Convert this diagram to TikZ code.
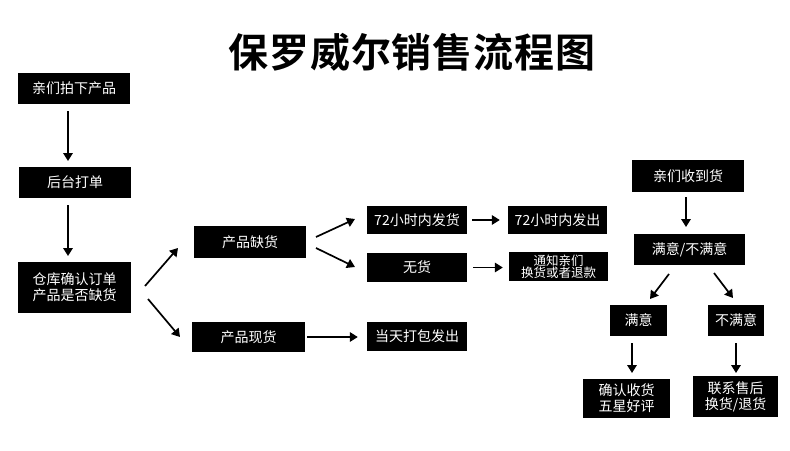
\documentclass[tikz,border=0pt]{standalone}
\usepackage{fontspec}
\newfontfamily\cjk{Noto Sans CJK SC}
\newfontfamily\cjktitle{Noto Sans CJK SC Bold}[LetterSpace=2]
\usetikzlibrary{arrows.meta}
\begin{document}
\begin{tikzpicture}[x=1pt,y=-1pt,
  bx/.style={fill=black,text=white,inner sep=0pt,font=\cjk\fontsize{14pt}{16pt}\selectfont,align=center},
  sbx/.style={bx,font=\cjk\fontsize{12.5pt}{12.5pt}\selectfont},
  arr/.style={line width=1.7pt,-{Triangle[length=8pt,width=9.5pt]}}]
\useasboundingbox[fill=white] (0,0) rectangle (790,450);
\node[font=\cjktitle\fontsize{40pt}{44pt}\selectfont] (title) at (412,52) {保罗威尔销售流程图};
% left column
\node[bx,minimum width=112pt,minimum height=31pt] (a) at (74,88.5) {亲们拍下产品};
\node[bx,minimum width=112pt,minimum height=31pt] (b) at (75,182.5) {后台打单};
\node[bx,minimum width=113pt,minimum height=51pt] (c) at (74.5,287.5) {仓库确认订单\\产品是否缺货};
\coordinate (a1) at (68,104); \coordinate (b1) at (68,167);
\coordinate (b2) at (68,198); \coordinate (c2) at (68,262);
\draw[arr,shorten <=7pt,shorten >=6pt] (a1) -- (b1);
\draw[arr,shorten <=7pt,shorten >=6pt] (b2) -- (c2);
% middle
\node[bx,minimum width=112pt,minimum height=32pt] (q) at (250,242) {产品缺货};
\node[bx,minimum width=113pt,minimum height=30pt] (x) at (248.5,337) {产品现货};
\coordinate (cq1) at (145,286); \coordinate (cq2) at (178,248);
\coordinate (cx1) at (148,299); \coordinate (cx2) at (180,337);
\draw[arr] (cq1) -- (cq2);
\draw[arr] (cx1) -- (cx2);
\node[bx,minimum width=100pt,minimum height=28pt] (h72) at (417,220) {72小时内发货};
\node[bx,minimum width=100pt,minimum height=29pt] (wh) at (417,267.5) {无货};
\node[bx,minimum width=100pt,minimum height=29pt] (dt) at (417,336.5) {当天打包发出};
\node[bx,minimum width=99pt,minimum height=28pt] (f72) at (557.5,220) {72小时内发出};
\node[sbx,minimum width=99pt,minimum height=29pt] (tz) at (558.5,266.5) {通知亲们\\换货或者退款};
\coordinate (qu1) at (316,237); \coordinate (qu2) at (355,219);
\coordinate (qd1) at (316,248); \coordinate (qd2) at (355,267);
\draw[arr] (qu1) -- (qu2);
\draw[arr] (qd1) -- (qd2);
\draw[arr,shorten <=5pt,shorten >=8pt] (h72.east) -- (f72.west);
\draw[arr,shorten <=6pt,shorten >=6pt] (wh.east) -- (tz.west |- wh.east);
\draw[arr,shorten <=2pt,shorten >=9pt] (x.east) -- (dt.west |- x.east);
% right
\node[bx,minimum width=112pt,minimum height=32pt] (r) at (688,176) {亲们收到货};
\node[bx,minimum width=111pt,minimum height=31pt] (s) at (689.5,249.5) {满意/不满意};
\node[bx,minimum width=57pt,minimum height=31pt] (m) at (638.5,320.5) {满意};
\node[bx,minimum width=56pt,minimum height=31pt] (n) at (736,320.5) {不满意};
\node[bx,minimum width=87pt,minimum height=39pt] (mm) at (626.5,398.5) {确认收货\\五星好评};
\node[bx,minimum width=85pt,minimum height=41pt] (nn) at (735.5,396.5) {联系售后\\换货/退货};
\coordinate (r1) at (686,192); \coordinate (s1) at (686,234);
\draw[arr,shorten <=5pt,shorten >=7pt] (r1) -- (s1);
\coordinate (sl1) at (669,274); \coordinate (sl2) at (650,299);
\coordinate (sr1) at (714,273); \coordinate (sr2) at (733,298);
\draw[arr] (sl1) -- (sl2);
\draw[arr] (sr1) -- (sr2);
\coordinate (m1) at (632,336); \coordinate (m2) at (632,379);
\coordinate (n1) at (736,336); \coordinate (n2) at (736,376);
\draw[arr,shorten <=7pt,shorten >=6pt] (m1) -- (m2);
\draw[arr,shorten <=7pt,shorten >=3pt] (n1) -- (n2);
\end{tikzpicture}
\end{document}
